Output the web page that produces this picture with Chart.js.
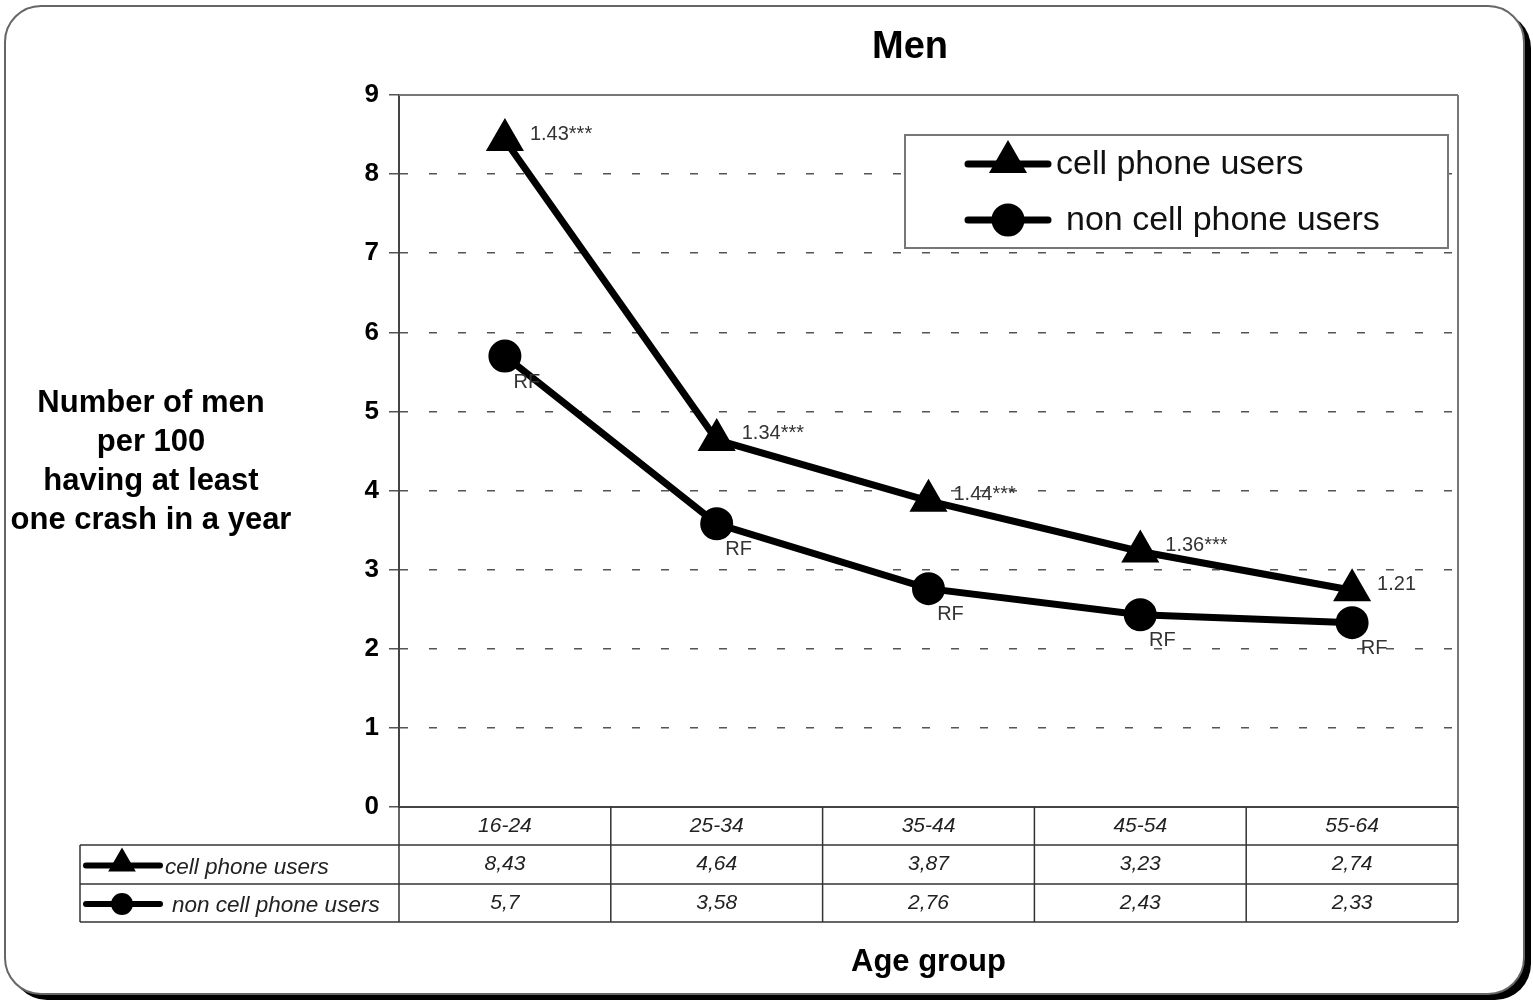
<!DOCTYPE html>
<html lang="en">
<head>
<meta charset="UTF-8" />
<title>Men - crashes per 100 by age group</title>
<script src="https://cdn.jsdelivr.net/npm/chart.js"></script>
<style>
  html, body { margin: 0; padding: 0; background: #fff; overflow: hidden; }
  .wrap { width: 1533px; height: 1003px; position: relative; }
</style>
</head>
<body>
<div class="wrap"><canvas id="menChart"></canvas></div>
<script>
  // data (the table under the chart gives the values)
  const ageGroups = ['16-24', '25-34', '35-44', '45-54', '55-64'];
  const cellUsers = [8.43, 4.64, 3.87, 3.23, 2.74];
  const nonCellUsers = [5.7, 3.58, 2.76, 2.43, 2.33];
  const ratioLabels = ['1.43***', '1.34***', '1.44***', '1.36***', '1.21'];
  const refLabels = ['RF', 'RF', 'RF', 'RF', 'RF'];
  const yTitleLines = ['Number of men', 'per 100', 'having at least', 'one crash in a year'];
  const xTitle = 'Age group';
  const chartTitle = 'Men';

  const FONT = '"Liberation Sans", Arial, Helvetica, sans-serif';

  function roundRect(ctx, x, y, w, h, r) {
    ctx.beginPath();
    ctx.moveTo(x + r, y);
    ctx.lineTo(x + w - r, y);
    ctx.arcTo(x + w, y, x + w, y + r, r);
    ctx.lineTo(x + w, y + h - r);
    ctx.arcTo(x + w, y + h, x + w - r, y + h, r);
    ctx.lineTo(x + r, y + h);
    ctx.arcTo(x, y + h, x, y + h - r, r);
    ctx.lineTo(x, y + r);
    ctx.arcTo(x, y, x + r, y, r);
    ctx.closePath();
  }

  function line(ctx, x1, y1, x2, y2) {
    ctx.beginPath();
    ctx.moveTo(x1, y1);
    ctx.lineTo(x2, y2);
    ctx.stroke();
  }

  function marker(ctx, style, r, x, y) {
    ctx.fillStyle = '#000';
    ctx.strokeStyle = '#000';
    Chart.helpers.drawPoint(ctx, { pointStyle: style, radius: r, rotation: 0, borderWidth: 1 }, x, y);
  }

  // rounded frame with dark shadow on right/bottom
  const framePlugin = {
    id: 'frame',
    beforeDraw(chart) {
      const ctx = chart.ctx;
      ctx.save();
      ctx.fillStyle = '#000';
      roundRect(ctx, 11, 12, 1520, 988, 36);
      ctx.fill();
      ctx.fillStyle = '#fff';
      roundRect(ctx, 5, 6, 1519, 988, 36);
      ctx.fill();
      ctx.strokeStyle = '#666';
      ctx.lineWidth = 2;
      ctx.stroke();
      ctx.restore();
    }
  };

  // solid top/right border of the plot area
  const plotBorder = {
    id: 'plotBorder',
    beforeDatasetsDraw(chart) {
      const { ctx, chartArea: a } = chart;
      ctx.save();
      ctx.strokeStyle = '#777';
      ctx.lineWidth = 2;
      line(ctx, a.left, a.top, a.right, a.top);
      line(ctx, a.right, a.top, a.right, a.bottom);
      ctx.restore();
    }
  };

  // ratio / RF annotations next to points + legend box
  const annotations = {
    id: 'annotations',
    afterDatasetsDraw(chart) {
      const ctx = chart.ctx;
      ctx.save();
      ctx.font = '20px ' + FONT;
      ctx.fillStyle = '#333';
      ctx.textBaseline = 'middle';
      ctx.textAlign = 'left';
      chart.getDatasetMeta(0).data.forEach((p, i) => {
        ctx.fillText(ratioLabels[i], p.x + 25, p.y - 6);
      });
      ctx.textAlign = 'center';
      chart.getDatasetMeta(1).data.forEach((p, i) => {
        ctx.fillText(refLabels[i], p.x + 22, p.y + 26);
      });

      // legend box
      ctx.fillStyle = '#fff';
      ctx.fillRect(905, 135, 543, 113);
      ctx.strokeStyle = '#777';
      ctx.lineWidth = 2;
      ctx.strokeRect(905, 135, 543, 113);
      const ds = chart.data.datasets;
      const rowsY = [164, 220];
      const textX = [1056, 1066];
      ds.forEach((d, i) => {
        ctx.strokeStyle = '#000';
        ctx.lineWidth = 7;
        ctx.lineCap = 'round';
        line(ctx, 968, rowsY[i], 1048, rowsY[i]);
        marker(ctx, d.pointStyle, i === 0 ? 15 : 13, 1008, rowsY[i] - (i === 0 ? 2 : 0));
        ctx.fillStyle = '#111';
        ctx.font = '34px ' + FONT;
        ctx.textAlign = 'left';
        ctx.fillText(d.label, textX[i], rowsY[i] + 1);
      });
      ctx.restore();
    }
  };

  // data table below the axis, titles
  const tablePlugin = {
    id: 'dataTable',
    afterDraw(chart) {
      const { ctx, chartArea: a, scales: { x } } = chart;
      const rows = [a.bottom, a.bottom + 38, a.bottom + 77, a.bottom + 115];
      const left = 80;
      const half = (x.getPixelForValue(1) - x.getPixelForValue(0)) / 2;
      ctx.save();
      ctx.strokeStyle = '#333';
      ctx.lineWidth = 1.5;
      line(ctx, left, rows[1], a.right, rows[1]);
      line(ctx, left, rows[2], a.right, rows[2]);
      line(ctx, left, rows[3], a.right, rows[3]);
      line(ctx, left, rows[1], left, rows[3]);
      line(ctx, a.left, rows[0], a.left, rows[3]);
      ageGroups.forEach((g, i) => {
        const cx = x.getPixelForValue(i);
        line(ctx, cx + half, rows[0], cx + half, rows[3]);
      });

      ctx.fillStyle = '#222';
      ctx.font = 'italic 21px ' + FONT;
      ctx.textAlign = 'center';
      ctx.textBaseline = 'middle';
      const series = [cellUsers, nonCellUsers];
      ageGroups.forEach((g, i) => {
        const cx = x.getPixelForValue(i);
        ctx.fillText(g, cx, (rows[0] + rows[1]) / 2);
        series.forEach((s, k) => {
          ctx.fillText(String(s[i]).replace('.', ','), cx, (rows[k + 1] + rows[k + 2]) / 2);
        });
      });

      // row headers with line swatches
      chart.data.datasets.forEach((d, k) => {
        const cy = (rows[k + 1] + rows[k + 2]) / 2 + 1;
        ctx.strokeStyle = '#000';
        ctx.lineWidth = 6;
        ctx.lineCap = 'round';
        line(ctx, 86, cy, 160, cy);
        marker(ctx, d.pointStyle, k === 0 ? 10 : 8, 122, cy - (k === 0 ? 2 : 0));
        ctx.fillStyle = '#222';
        ctx.font = 'italic 22.5px ' + FONT;
        ctx.textAlign = 'left';
        ctx.fillText(d.label, k === 0 ? 165 : 172, cy + 2);
      });

      // titles
      ctx.fillStyle = '#000';
      ctx.textAlign = 'center';
      ctx.font = 'bold 38px ' + FONT;
      ctx.fillText(chartTitle, 910, 48);
      ctx.font = 'bold 31px ' + FONT;
      yTitleLines.forEach((t, i) => ctx.fillText(t, 151, 403 + i * 39));
      ctx.fillText(xTitle, (a.left + a.right) / 2, 962);
      ctx.restore();
    }
  };

  new Chart(document.getElementById('menChart'), {
    type: 'line',
    data: {
      labels: ageGroups,
      datasets: [
        {
          label: 'cell phone users',
          data: cellUsers,
          borderColor: '#000',
          backgroundColor: '#000',
          borderWidth: 7,
          pointStyle: 'triangle',
          pointRadius: 15,
          tension: 0
        },
        {
          label: 'non cell phone users',
          data: nonCellUsers,
          borderColor: '#000',
          backgroundColor: '#000',
          borderWidth: 7,
          pointStyle: 'circle',
          pointRadius: 13,
          tension: 0
        }
      ]
    },
    options: {
      responsive: true,
      maintainAspectRatio: false,
      animation: false,
      layout: { padding: { left: 0, right: 75, top: 95, bottom: 0 } },
      plugins: {
        legend: { display: false },
        tooltip: { enabled: false },
        title: { display: false }
      },
      scales: {
        x: {
          offset: true,
          grid: { display: false, drawTicks: false },
          border: { display: true, color: '#444', width: 2 },
          ticks: { display: false },
          afterFit(scale) { scale.height = 196; }
        },
        y: {
          min: 0,
          max: 9,
          ticks: {
            stepSize: 1,
            color: '#000',
            padding: 10,
            font: { family: FONT, size: 26, weight: 'bold' }
          },
          grid: { color: '#555', lineWidth: 1.5, tickLength: 10 },
          border: { display: true, color: '#444', width: 2, dash: [8, 21] },
          afterFit(scale) { scale.width = 399; }
        }
      }
    },
    plugins: [framePlugin, plotBorder, annotations, tablePlugin]
  });
</script>
</body>
</html>
